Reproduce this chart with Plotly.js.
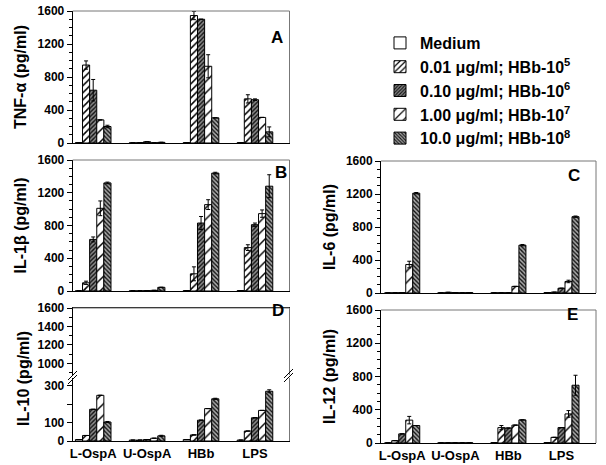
<!DOCTYPE html>
<html>
<head>
<meta charset="utf-8">
<script src="https://cdn.plot.ly/plotly-3.0.1.min.js"></script>
<style>
  body { margin: 0; background: #fff; }
  #chart { width: 606px; height: 465px; }
</style>
</head>
<body>
<div id="chart"></div>
<script>
// categories and dose groups
var categories = ["L-OspA", "U-OspA", "HBb", "LPS"];
var doses = [
  "Medium",
  "0.01 \u03bcg/ml; HBb-10<sup>5</sup>",
  "0.10 \u03bcg/ml; HBb-10<sup>6</sup>",
  "1.00 \u03bcg/ml; HBb-10<sup>7</sup>",
  "10.0 \u03bcg/ml; HBb-10<sup>8</sup>"
];

// values per dose (rows), per category (columns), pg/ml
var tnf = [
  [5, 3, 5, 5],
  [945, 5, 1545, 535],
  [640, 15, 1500, 525],
  [280, 3, 930, 310],
  [200, 8, 305, 135]
];
var tnfErr = [
  [0, 0, 0, 0],
  [50, 0, 50, 50],
  [130, 0, 0, 10],
  [0, 0, 140, 0],
  [15, 0, 0, 60]
];

var il1b = [
  [3, 3, 5, 5],
  [100, 3, 210, 530],
  [630, 5, 830, 810],
  [1010, 8, 1055, 945],
  [1320, 45, 1440, 1280]
];
var il1bErr = [
  [0, 0, 0, 0],
  [20, 0, 85, 35],
  [30, 0, 80, 20],
  [90, 0, 60, 45],
  [10, 0, 10, 140]
];

var il6 = [
  [3, 3, 3, 5],
  [3, 8, 3, 10],
  [5, 5, 3, 58],
  [345, 3, 80, 140],
  [1210, 5, 580, 925]
];
var il6Err = [
  [0, 0, 0, 0],
  [0, 0, 0, 0],
  [0, 0, 0, 0],
  [40, 0, 0, 15],
  [8, 0, 8, 8]
];

var il10 = [
  [8, 5, 8, 5],
  [30, 5, 33, 54],
  [172, 8, 113, 126],
  [248, 15, 176, 166],
  [103, 28, 229, 270]
];
var il10Err = [
  [0, 0, 0, 0],
  [0, 0, 0, 0],
  [0, 0, 0, 0],
  [0, 0, 0, 0],
  [3, 3, 3, 8]
];

var il12 = [
  [3, 3, 5, 5],
  [28, 3, 185, 68],
  [110, 3, 180, 185],
  [275, 3, 215, 350],
  [210, 3, 278, 695]
];
var il12Err = [
  [0, 0, 0, 0],
  [0, 0, 25, 0],
  [0, 0, 0, 0],
  [45, 0, 0, 40],
  [0, 0, 0, 120]
];

var W = 606, H = 465;
var FONT = "Liberation Sans, Arial, sans-serif";
function px(x) { return x / W; }
function py(y) { return 1 - y / H; }

// fill style of each dose
var patterns = [
  { shape: "", bgcolor: "white", fgcolor: "black" },
  { shape: "/", bgcolor: "white", fgcolor: "black", size: 5, solidity: 0.3 },
  { shape: "/", bgcolor: "#8a8a8a", fgcolor: "#111", size: 3, solidity: 0.45 },
  { shape: "/", bgcolor: "white", fgcolor: "black", size: 8, solidity: 0.18 },
  { shape: "\\", bgcolor: "#a8a8a8", fgcolor: "#111", size: 3, solidity: 0.45 }
];

var panels = [
  { xa: "x", ya: "y", vals: tnf, errs: tnfErr, legend: true },
  { xa: "x2", ya: "y2", vals: il1b, errs: il1bErr },
  { xa: "x3", ya: "y3", vals: il6, errs: il6Err },
  { xa: "x4", ya: "y4", vals: il10, errs: il10Err },
  { xa: "x5", ya: "y5", vals: il10, errs: il10Err },
  { xa: "x6", ya: "y6", vals: il12, errs: il12Err }
];

var data = [];
panels.forEach(function (p) {
  doses.forEach(function (d, i) {
    data.push({
      type: "bar",
      name: d,
      x: categories,
      y: p.vals[i],
      xaxis: p.xa,
      yaxis: p.ya,
      showlegend: !!p.legend,
      marker: {
        color: patterns[i].bgcolor,
        pattern: patterns[i],
        line: { color: "black", width: 1 }
      },
      error_y: {
        type: "data",
        array: p.errs[i],
        visible: true,
        color: "black",
        thickness: 1,
        width: 2
      }
    });
  });
});

var tickFont = { family: FONT, size: 12, color: "black", weight: "bold" };
var titleFont = { family: FONT, size: 16, color: "black", weight: "bold" };

var xLeft = [px(72.7), px(289.5)];
var xRight = [px(381), px(596)];

function xAxis(domain, anchor, labels, range) {
  return {
    domain: domain, anchor: anchor, range: range,
    showticklabels: labels, ticks: "", showline: true, linecolor: "black",
    linewidth: 1, showgrid: false, zeroline: false, fixedrange: true,
    tickfont: { family: FONT, size: 13, color: "black", weight: "bold" }
  };
}
function yAxis(domain, anchor, title, range, tickvals, ticktext, minor) {
  var ax = {
    domain: domain, anchor: anchor, range: range,
    tickvals: tickvals, ticks: "outside", ticklen: 5, tickcolor: "black",
    showline: true, linecolor: "black", linewidth: 1,
    showgrid: false, zeroline: false, tickfont: tickFont
  };
  if (minor !== false) ax.minor = { dtick: 100, ticks: "outside", ticklen: 3, tickcolor: "black" };
  if (ticktext) ax.ticktext = ticktext;
  if (title) ax.title = { text: title, font: titleFont, standoff: 6 };
  return ax;
}

var majors = [0, 400, 800, 1200, 1600];
var rangeL = [-0.38, 3.64];
var rangeR = [-0.4, 3.65];

var layout = {
  width: W, height: H,
  margin: { l: 0, r: 0, t: 0, b: 0 },
  paper_bgcolor: "white", plot_bgcolor: "white",
  barmode: "group", bargap: 0.34, bargroupgap: 0,
  font: { family: FONT, color: "black" },
  showlegend: true,
  legend: {
    x: px(380), y: py(26), xanchor: "left", yanchor: "top",
    font: { family: FONT, size: 16, color: "black", weight: "bold" },
    bgcolor: "rgba(0,0,0,0)", itemwidth: 30, tracegroupgap: 0
  },
  xaxis: xAxis(xLeft, "y", false, rangeL),
  yaxis: yAxis([py(143), py(11)], "x", "TNF-\u03b1 (pg/ml)", [0, 1600], majors),
  xaxis2: xAxis(xLeft, "y2", false, rangeL),
  yaxis2: yAxis([py(291), py(160)], "x2", "IL-1\u03b2 (pg/ml)", [0, 1600], majors),
  xaxis3: xAxis(xRight, "y3", false, rangeR),
  yaxis3: yAxis([py(293), py(161)], "x3", "IL-6 (pg/ml)", [0, 1600], majors),
  xaxis4: xAxis(xLeft, "y4", true, rangeL),
  yaxis4: yAxis([py(441), py(378)], "x4", null, [0, 342], [0, 100, 200, 300], ["0", "100", " ", "300"], false),
  xaxis5: xAxis(xLeft, "y5", false, rangeL),
  yaxis5: yAxis([py(375), py(308)], "x5", null, [873, 1600], [1000, 1200, 1400, 1600]),
  xaxis6: xAxis(xRight, "y6", true, rangeR),
  yaxis6: yAxis([py(443), py(310)], "x6", "IL-12 (pg/ml)", [0, 1600], majors)
};
// upper part of the broken IL-10 axis: line on top only
layout.xaxis5.side = "top";

// grey top / right frame lines
var shapes = [];
function frame(xa, ya, top, right) {
  var grey = { color: "#777", width: 1 };
  if (top) shapes.push({ type: "line", xref: xa + " domain", yref: ya + " domain", x0: 0, x1: 1, y0: 1, y1: 1, line: grey });
  if (right) shapes.push({ type: "line", xref: xa + " domain", yref: ya + " domain", x0: 1, x1: 1, y0: 0, y1: 1, line: grey });
}
frame("x", "y", true, true);
frame("x2", "y2", true, true);
frame("x3", "y3", true, true);
frame("x4", "y4", false, true);
frame("x5", "y5", true, true);
frame("x6", "y6", true, true);

// axis break marks
[[68, 380], [68, 384], [284, 378], [284, 382]].forEach(function (b) {
  shapes.push({
    type: "line", xref: "paper", yref: "paper",
    x0: px(b[0]), y0: py(b[1]), x1: px(b[0] + 9), y1: py(b[1] - 9),
    line: { color: "black", width: 1 }
  });
});
layout.shapes = shapes;

var letterFont = { family: FONT, size: 17, color: "black", weight: "bold" };
var letters = [["A", 277, 26], ["B", 281, 172], ["C", 582, 175], ["D", 278, 322], ["E", 580, 326]];
layout.annotations = letters.map(function (l) {
  return { text: l[0], xref: "paper", yref: "paper", x: px(l[1]), y: py(l[2]),
    showarrow: false, font: letterFont };
});
layout.annotations.push({
  text: "IL-10 (pg/ml)", xref: "paper", yref: "paper", x: px(23), y: py(379),
  xanchor: "center", yanchor: "middle",
  textangle: -90, showarrow: false, font: titleFont
});

Plotly.newPlot("chart", data, layout, { displayModeBar: false, staticPlot: true });
</script>
</body>
</html>
